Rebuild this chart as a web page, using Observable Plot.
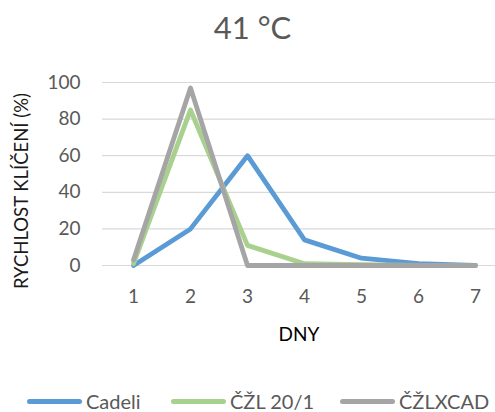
<!DOCTYPE html>
<html>
<head>
<meta charset="utf-8">
<script src="https://cdn.jsdelivr.net/npm/d3@7"></script>
<script src="https://cdn.jsdelivr.net/npm/@observablehq/plot@0.6"></script>
<style>
  body { margin: 0; background: #fff; font-family: Lato, "Open Sans", sans-serif; }
  #wrap { width: 495px; height: 412px; overflow: hidden; position: relative; }
  #title { height: 55px; line-height: 55px; text-align: center; font-size: 31px; color: #595959; padding-left: 10px; }
  #legend { margin-top: 35px; height: 22px; display: flex; align-items: center; font-size: 20px; color: #595959; }
  .item { display: flex; align-items: center; position: absolute; }
  .sw { width: 55px; height: 5px; border-radius: 3px; margin-right: 4px; }
</style>
</head>
<body>
<div id="wrap">
  <div id="title">41 °C</div>
  <div id="chart"></div>
  <div id="legend"></div>
</div>
<script>
const days = [1, 2, 3, 4, 5, 6, 7];
const seriesNames = ["Cadeli", "ČŽL 20/1", "ČŽLXCAD"];
const cadeli = [0, 20, 60, 14, 4, 1, 0];
const czl = [1, 85, 11, 1, 0.5, 0, 0];
const czlxcad = [3, 97, 0, 0, 0, 0, 0];
const colors = ["#5B9BD5", "#A9D18E", "#A5A5A5"];
const yTicks = [0, 20, 40, 60, 80, 100];
const yLabel = "RYCHLOST KLÍČENÍ (%)";
const xLabel = "DNY";

const seriesValues = [cadeli, czl, czlxcad];
const data = [];
seriesNames.forEach((s, i) => days.forEach((d, j) => data.push({series: s, day: d, value: seriesValues[i][j]})));

const plot = Plot.plot({
  width: 495,
  height: 300,
  marginTop: 27,
  marginBottom: 90,
  marginLeft: 102,
  marginRight: 0,
  style: { fontFamily: "Lato, 'Open Sans', sans-serif", background: "#fff" },
  x: { type: "point", domain: days, range: [131, 476], padding: 0 },
  y: { domain: [0, 100], range: [210, 27] },
  color: { domain: seriesNames, range: colors },
  marks: [
    Plot.gridY({ ticks: yTicks, stroke: "#d9d9d9", strokeOpacity: 1, strokeWidth: 1.2 }),
    Plot.axisY({ ticks: yTicks, tickSize: 0, tickPadding: 22, fontSize: 19, fill: "#595959", label: null }),
    Plot.axisX({ ticks: days, tickSize: 0, tickPadding: 24, fontSize: 19, fill: "#595959", label: null }),
    Plot.text([yLabel], { frameAnchor: "left", textAnchor: "middle", rotate: -90, dx: -80, dy: 17, fontSize: 18.5, fill: "#1a1a1a" }),
    Plot.text([xLabel], { frameAnchor: "bottom", dy: 75, fontSize: 19, fill: "#000" }),
    Plot.line(data, { x: "day", y: "value", z: "series", stroke: "series", strokeWidth: 4.8, strokeLinecap: "round", strokeLinejoin: "round" })
  ]
});
document.getElementById("chart").appendChild(plot);

const legend = document.getElementById("legend");
const lefts = [27, 171, 340];
seriesNames.forEach((s, i) => {
  const it = document.createElement("div");
  it.className = "item";
  it.style.left = lefts[i] + "px";
  const sw = document.createElement("div");
  sw.className = "sw";
  sw.style.background = colors[i];
  const t = document.createElement("span");
  t.textContent = s;
  it.appendChild(sw); it.appendChild(t);
  legend.appendChild(it);
});
</script>
</body>
</html>
